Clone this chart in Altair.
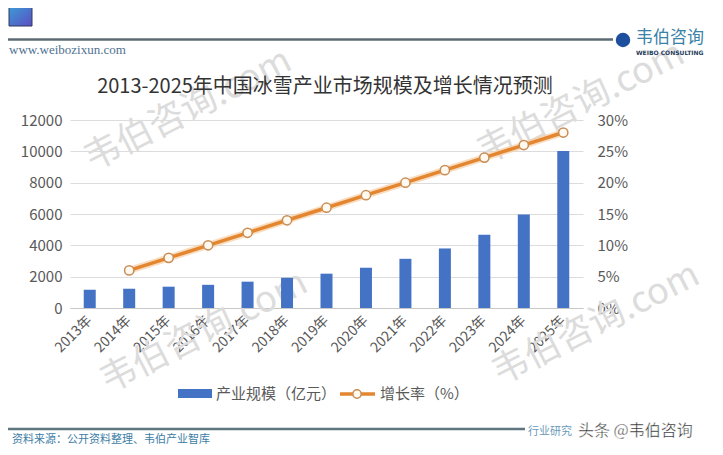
import altair as alt
import pandas as pd

# ---- data ----
years = ["2013年", "2014年", "2015年", "2016年", "2017年", "2018年", "2019年",
         "2020年", "2021年", "2022年", "2023年", "2024年", "2025年"]
scale_values = [1160, 1230, 1360, 1480, 1680, 1930, 2190, 2570, 3140, 3800, 4670, 5970, 10020]
growth_years = years[1:]
growth_values = [6, 8, 10, 12, 14, 16, 18, 20, 22, 24, 26, 28]
left_ticks = [0, 2000, 4000, 6000, 8000, 10000, 12000]
right_ticks = [0, 5, 10, 15, 20, 25, 30]

title_text = "2013-2025年中国冰雪产业市场规模及增长情况预测"
legend_bar = "产业规模（亿元）"
legend_line = "增长率（%）"
watermark = "韦伯咨询.com"

FONT = "Noto Sans CJK SC"
SERIF = "Liberation Serif"
W, H = 513, 188

bars_df = pd.DataFrame({"year": years, "value": scale_values})
line_df = pd.DataFrame({"year": growth_years, "rate": growth_values})
one = pd.DataFrame({"k": [0]})

x_enc = alt.X(
    "year:N", sort=years,
    scale=alt.Scale(domain=years, paddingInner=0, paddingOuter=0),
    axis=alt.Axis(title=None, labelAngle=-45, labelAlign="right", labelBaseline="middle",
                  labelFont=FONT, labelFontSize=14, labelColor="#595959", ticks=False,
                  domainColor="#C8C8C8", labelPadding=10, grid=False),
)

bars = alt.Chart(bars_df).mark_bar(size=12, color="#4472C4").encode(
    x=x_enc,
    y=alt.Y("value:Q", scale=alt.Scale(domain=[0, 12000], nice=False),
            axis=alt.Axis(orient="left", values=left_ticks, title=None, domain=False,
                          ticks=False, labelFont=FONT, labelFontSize=15,
                          labelColor="#595959", labelPadding=8, gridColor="#DCDCDC",
                          format="d")),
)

rate_scale = alt.Scale(domain=[0, 30], nice=False)
glow = alt.Chart(line_df).mark_line(color="#F6CFA6", strokeWidth=7, opacity=0.7).encode(
    x=x_enc, y=alt.Y("rate:Q", scale=rate_scale, axis=None))
line = alt.Chart(line_df).mark_line(color="#E3862F", strokeWidth=3.5).encode(
    x=x_enc,
    y=alt.Y("rate:Q", scale=rate_scale,
            axis=alt.Axis(orient="right", values=right_ticks, labelExpr="datum.value + '%'",
                          grid=False, domain=False, ticks=False, title=None,
                          labelFont=FONT, labelFontSize=15, labelColor="#595959",
                          labelPadding=14)),
)
points = alt.Chart(line_df).mark_point(filled=True, fill="#FFF9F0", stroke="#C98D55",
                                       strokeWidth=1.5, size=85, opacity=1).encode(
    x=x_enc, y=alt.Y("rate:Q", scale=rate_scale, axis=None))


def txt(s, x, y, **kw):
    return alt.Chart(pd.DataFrame({"t": [s]})).mark_text(**kw).encode(
        text="t:N", x=alt.value(x), y=alt.value(y))


def rule(x1, x2, y, color, w):
    return alt.Chart(one).mark_rule(color=color, strokeWidth=w).encode(
        x=alt.value(x1), x2=alt.value(x2), y=alt.value(y))


wm_kw = dict(angle=333, fontSize=36, color="#DCDCDC", font=FONT, align="center",
             baseline="middle")
watermarks = [
    txt(watermark, 118, -10, **wm_kw),
    txt(watermark, 511, -17, **wm_kw),
    txt(watermark, 134, 212, **wm_kw),
    txt(watermark, 526, 204, **wm_kw),
]

square = alt.Chart(one).mark_rect(
    color=alt.Gradient(gradient="linear",
                       stops=[alt.GradientStop(color="#3C9BD6", offset=0),
                              alt.GradientStop(color="#5A4EC2", offset=1)],
                       x1=0, x2=1, y1=0, y2=1),
    stroke="#2E3A5C", strokeWidth=1,
).encode(x=alt.value(-61), x2=alt.value(-38), y=alt.value(-113), y2=alt.value(-94))

header = [
    square,
    rule(-62, 543, -80.5, "#5E6B74", 2.5),
    txt("www.weibozixun.com", -61, -70, font=SERIF, fontSize=13, color="#4F7192",
        align="left", baseline="middle"),
    alt.Chart(one).mark_point(filled=True, shape="circle", size=210, color="#1E4E9E",
                              opacity=1).encode(x=alt.value(553), y=alt.value(-80)),
    txt("韦伯咨询", 566, -82, font=FONT, fontSize=17, color="#3B82A8", align="left",
        baseline="middle"),
    txt("WEIBO CONSULTING", 566, -67, font="DejaVu Sans", fontSize=6, fontWeight="bold",
        color="#1F3B5A", align="left", baseline="middle"),
    txt(title_text, 255, -33, font=FONT, fontSize=20, color="#333333", align="center",
        baseline="middle"),
]

legend = [
    alt.Chart(one).mark_rect(color="#4472C4").encode(
        x=alt.value(108), x2=alt.value(142), y=alt.value(269), y2=alt.value(278)),
    txt(legend_bar, 146, 274, font=FONT, fontSize=15, color="#595959", align="left",
        baseline="middle"),
    rule(270, 305, 274, "#E3862F", 3.5),
    alt.Chart(one).mark_point(filled=True, fill="#FFF9F0", stroke="#C98D55",
                              strokeWidth=1.5, size=70, opacity=1).encode(
        x=alt.value(287), y=alt.value(274)),
    txt(legend_line, 310, 274, font=FONT, fontSize=15, color="#595959", align="left",
        baseline="middle"),
]

footer = [
    rule(-62, 455, 309, "#5F7580", 2.5),
    txt("资料来源：公开资料整理、韦伯产业智库", -58, 320, font=FONT, fontSize=11,
        color="#3C7EA6", align="left", baseline="middle"),
    txt("行业研究", 458, 312, font=FONT, fontSize=11, color="#6A9AB8", align="left",
        baseline="middle"),
    txt("头条 @韦伯咨询", 508, 311, font=FONT, fontSize=16, color="#262626",
        stroke="white", strokeWidth=0.4, align="left", baseline="middle"),
]

chart = alt.layer(
    *watermarks, bars, glow, line, points, *header, *legend, *footer
).resolve_scale(y="independent").properties(
    width=W, height=H,
    autosize=alt.AutoSizeParams(type="none"),
    padding={"left": 62, "top": 112, "right": 132, "bottom": 139},
    background="white",
).configure_view(stroke=None)

chart.save("out.html", embed_options={"renderer": "svg", "actions": False})
